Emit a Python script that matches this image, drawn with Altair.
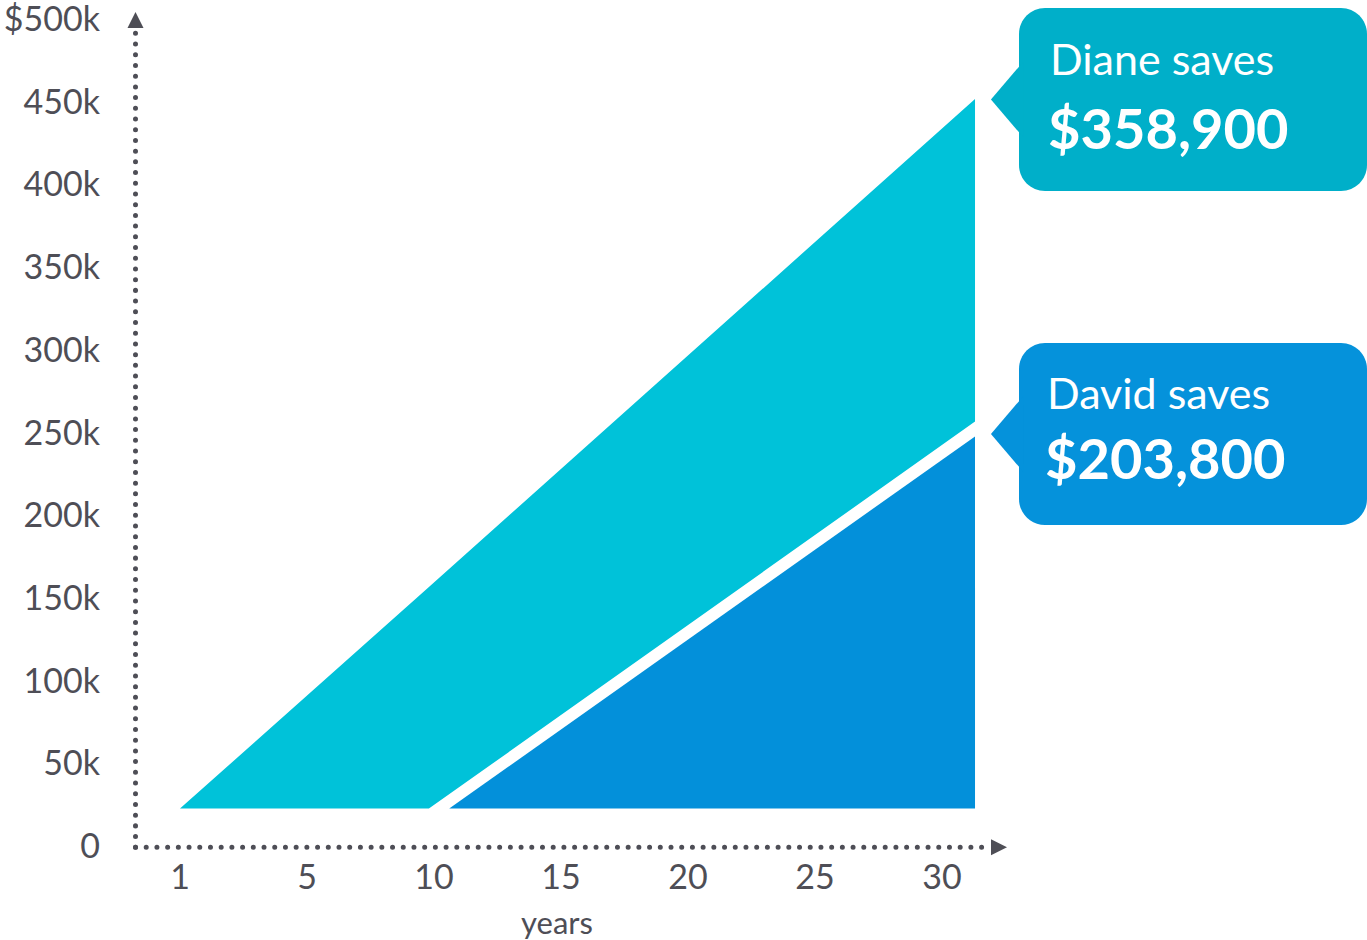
import altair as alt
import pandas as pd

# ---- data ----
# x is "years elapsed" (label "1" sits at the start of the axis)
diane_years = [0.0, 9.8, 31.3]
diane_top = [22, 156, 451]        # $k
diane_bottom = [22, 22, 256]      # $k

david_years = [10.6, 31.3]
david_top = [22, 247]
david_bottom = [22, 22]

x_tick_pos = [0, 5, 10, 15, 20, 25, 30]
x_tick_labels = ["1", "5", "10", "15", "20", "25", "30"]

y_tick_vals = [0, 50, 100, 150, 200, 250, 300, 350, 400, 450, 500]
y_tick_labels = ["0", "50k", "100k", "150k", "200k", "250k", "300k", "350k", "400k", "450k", "$500k"]

callout_names = ["Diane saves", "David saves"]
callout_amounts = ["$358,900", "$203,800"]

# ---- styles ----
FONT = "Lato"
TEAL_AREA = "#00C2D9"
TEAL_BOX = "#00AFC9"
BLUE_AREA = "#0390DA"
BLUE_BOX = "#0592DB"
AXIS_COL = "#4E4E56"

W, H = 1367, 940
xs = alt.Scale(domain=[0, 30], range=[180, 942])
ys = alt.Scale(domain=[0, 500], range=[845, 18])

diane = pd.DataFrame({"t": diane_years, "top": diane_top, "bot": diane_bottom})
david = pd.DataFrame({"t": david_years, "top": david_top, "bot": david_bottom})

a1 = alt.Chart(diane).mark_area(color=TEAL_AREA, interpolate="linear").encode(
    x=alt.X("t:Q", scale=xs, axis=None),
    y=alt.Y("top:Q", scale=ys, axis=None),
    y2="bot:Q",
)
a2 = alt.Chart(david).mark_area(color=BLUE_AREA, interpolate="linear").encode(
    x=alt.X("t:Q", scale=xs, axis=None),
    y=alt.Y("top:Q", scale=ys, axis=None),
    y2="bot:Q",
)

one = pd.DataFrame({"a": [0]})

# dotted axes
vaxis = alt.Chart(one).mark_rule(
    color=AXIS_COL, strokeWidth=5, strokeDash=[0.01, 10.7], strokeCap="round"
).encode(x=alt.value(135.5), y=alt.value(847.3), y2=alt.value(33))
haxis = alt.Chart(one).mark_rule(
    color=AXIS_COL, strokeWidth=5, strokeDash=[0.01, 10.7], strokeCap="round"
).encode(x=alt.value(135.5), x2=alt.value(990), y=alt.value(847.3))

arrow_up = alt.Chart(one).mark_point(
    shape="M0,-1 L1,1 L-1,1 Z", filled=True, color=AXIS_COL, opacity=1, size=256
).encode(x=alt.value(135.5), y=alt.value(20))
arrow_right = alt.Chart(one).mark_point(
    shape="M1,0 L-1,-1 L-1,1 Z", filled=True, color=AXIS_COL, opacity=1, size=256
).encode(x=alt.value(999), y=alt.value(847.3))

# tick labels
ylab = alt.Chart(pd.DataFrame({"v": y_tick_vals, "l": y_tick_labels})).mark_text(
    font=FONT, fontSize=34, color=AXIS_COL, align="right", baseline="middle", dy=3
).encode(x=alt.value(100), y=alt.Y("v:Q", scale=ys, axis=None), text="l:N")
xlab = alt.Chart(pd.DataFrame({"v": x_tick_pos, "l": x_tick_labels})).mark_text(
    font=FONT, fontSize=34, color=AXIS_COL, align="center", baseline="middle"
).encode(x=alt.X("v:Q", scale=xs, axis=None), y=alt.value(879), text="l:N")
xtitle = alt.Chart(one).mark_text(
    font=FONT, fontSize=31, color=AXIS_COL, align="center", baseline="middle", text="years"
).encode(x=alt.value(557), y=alt.value(925))

# callouts
def callout(top, bottom, tip_y, color, name, amount, tx, name_base, amt_base):
    box = alt.Chart(one).mark_rect(color=color, cornerRadius=26).encode(
        x=alt.value(1019), x2=alt.value(1367), y=alt.value(top), y2=alt.value(bottom)
    )
    ptr = alt.Chart(one).mark_point(
        shape="M-0.85,0 L0.15,-1.17 L0.15,1.17 Z", filled=True, color=color,
        opacity=1, size=4356
    ).encode(x=alt.value(1019), y=alt.value(tip_y))
    t1 = alt.Chart(one).mark_text(
        font=FONT, fontSize=43, color="white", align="left", baseline="alphabetic", text=name
    ).encode(x=alt.value(tx), y=alt.value(name_base))
    t2 = alt.Chart(one).mark_text(
        font=FONT, fontSize=56, fontWeight="bold", color="white", align="left",
        baseline="alphabetic", text=amount
    ).encode(x=alt.value(tx - 2), y=alt.value(amt_base))
    return [box, ptr, t1, t2]

c1 = callout(8, 191, 99.5, TEAL_BOX, callout_names[0], callout_amounts[0], 1050, 75, 149)
c2 = callout(343, 525, 434, BLUE_BOX, callout_names[1], callout_amounts[1], 1047, 409, 479)

chart = alt.layer(
    a1, a2, vaxis, haxis, arrow_up, arrow_right, ylab, xlab, xtitle, *c1, *c2
).properties(
    width=W, height=H, padding=0, autosize=alt.AutoSizeParams(type="none")
).configure_view(stroke=None)

chart.save("out.html", embed_options={"renderer": "svg", "actions": False})
